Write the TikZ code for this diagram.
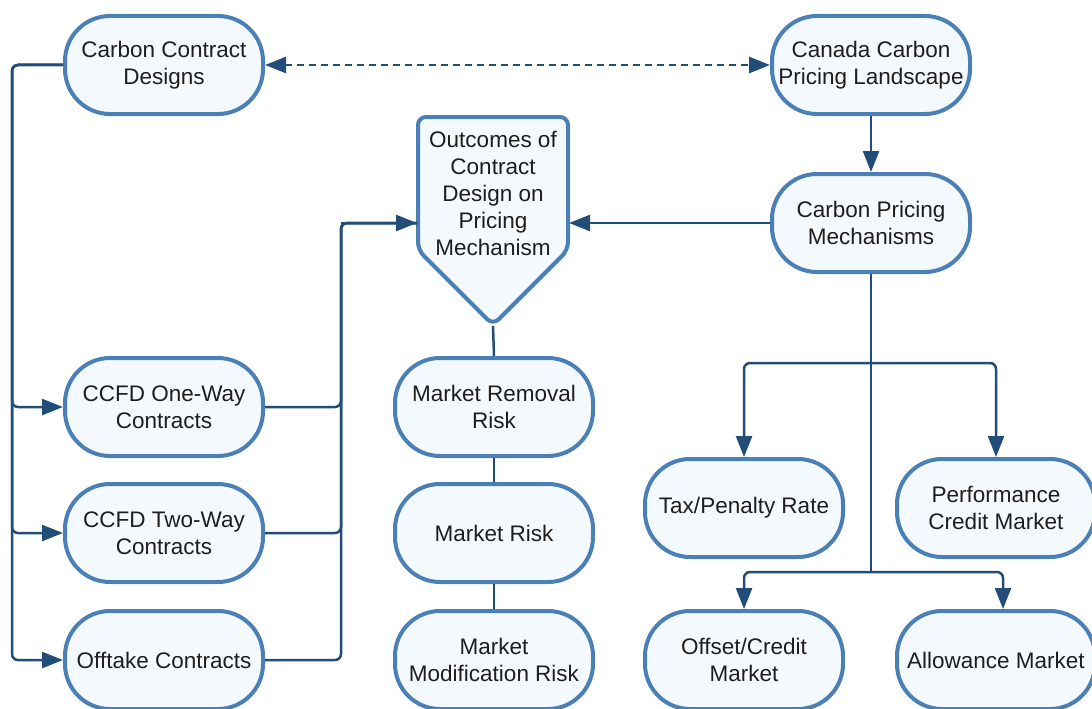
\documentclass[tikz,border=0pt]{standalone}
\usepackage{fontspec}
\setmainfont{Liberation Sans}
\usetikzlibrary{positioning,arrows.meta}
\definecolor{edgeblue}{HTML}{4A80B6}
\definecolor{fillblue}{HTML}{F4F9FE}
\definecolor{linkblue}{HTML}{214D78}
\definecolor{txtgray}{HTML}{1E1E1E}
\tikzset{
	mynode/.style={draw=edgeblue,fill=fillblue,line width=4pt,rounded corners=45pt,minimum width=198pt,minimum height=98pt,align=center,text=txtgray,font=\fontsize{22.5}{27}\selectfont,inner sep=0pt},
	myarrow1/.style={-{Triangle[length=21pt,width=16pt]},draw=linkblue,line width=2.5pt,rounded corners=6pt},
	myarrow2/.style={{Triangle[length=21pt,width=16pt]}-{Triangle[length=21pt,width=16pt]},draw=linkblue,line width=2.5pt,dash pattern=on 7pt off 5pt},
	myline/.style={draw=linkblue,line width=2.5pt,rounded corners=6pt}
}

\begin{document}
\begin{tikzpicture}[x=1pt,y=-1pt]
		\useasboundingbox (0,0) rectangle (1092,709);
		\clip (0,0) rectangle (1092,709);
		% top row
		\node[mynode](designs) at (164,65){Carbon Contract\\Designs};
		\node[mynode](landscape) at (871,65){Canada Carbon\\Pricing Landscape};
		\node[mynode](mechanisms) at (871,223){Carbon Pricing\\Mechanisms};
		% contract types
		\node[mynode](oneway) at (164,407){CCFD One-Way\\Contracts};
		\node[mynode](twoway) at (164,533){CCFD Two-Way\\Contracts};
		\node[mynode](offtake) at (164,660){Offtake Contracts};
		% outcomes and risks
		\draw[draw=edgeblue,fill=fillblue,line width=4pt,rounded corners=8pt] (418,117) -- (568,117) -- (568,250) -- (493,325) -- (418,250) -- cycle;
		\node[align=center,text=txtgray,font=\fontsize{22.5}{27}\selectfont,inner sep=0pt](outcomes) at (493,193){Outcomes of\\Contract\\Design on\\Pricing\\Mechanism};
		\coordinate (outtip) at (493,326);
		\coordinate (outleft) at (417,223);
		\coordinate (outright) at (569,223);
		\node[mynode](removal) at (494,407){Market Removal\\Risk};
		\node[mynode](marketrisk) at (494,533){Market Risk};
		\node[mynode](modification) at (494,660){Market\\Modification Risk};
		% pricing mechanisms
		\node[mynode](tax) at (744,508){Tax/Penalty Rate};
		\node[mynode](performance) at (996,508){Performance\\Credit Market};
		\node[mynode](offset) at (744,660){Offset/Credit\\Market};
		\node[mynode](allowance) at (996,660){Allowance Market};

		\draw[myarrow2] (designs) -- (landscape);
		\draw[myarrow1] (landscape) -- (mechanisms);
		\draw[myarrow1] (mechanisms.west) -- (outright);

		\coordinate (leftbus) at (12,65);
		\coordinate (rightbus) at (341,223);
		\foreach \n in {oneway,twoway,offtake}{
			\draw[myarrow1] (designs.west) -- (leftbus) |- (\n.west);
			\draw[myline] (\n.east) -| (rightbus) -- (outleft);
		}
		\draw[myarrow1] (rightbus) -- (outleft);

		\draw[myline] (outtip) -- (removal.north);
		\draw[myline] (removal) -- (marketrisk);
		\draw[myline] (marketrisk) -- (modification);

		\coordinate (fork1) at (871,363);
		\coordinate (fork2) at (871,572);
		\draw[myline] (mechanisms.south) -- (fork2);
		\draw[myarrow1] (fork1) -| (tax.north);
		\draw[myarrow1] (fork1) -| (performance.north);
		\draw[myarrow1] (fork2) -| (offset.north);
		\draw[myarrow1] (fork2) -| ([xshift=7pt]allowance.north);
	\end{tikzpicture}
\end{document}
